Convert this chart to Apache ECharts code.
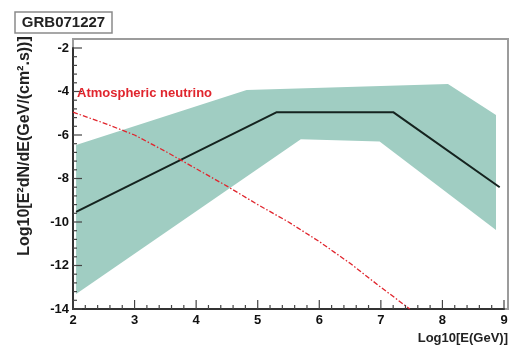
<!DOCTYPE html>
<html>
<head>
<meta charset="utf-8">
<script src="https://cdn.jsdelivr.net/npm/echarts@6/dist/echarts.min.js"></script>
<style>
  html, body { margin: 0; padding: 0; background: #fff; }
  #chart { width: 511px; height: 345px; }
</style>
</head>
<body>
<div id="chart"></div>
<script>
// Expected neutrino flux for GRB071227: log10(E/GeV) vs log10(E^2 dN/dE)
const fluxLine = [[2.05, -9.53], [5.31, -4.95], [7.2, -4.95], [8.93, -8.4]];

// Uncertainty band: upper edge left to right, lower edge left to right
const bandUpper = [[2.05, -6.46], [4.82, -3.93], [8.09, -3.66], [8.87, -5.08]];
const bandLower = [[2.05, -13.31], [5.7, -6.2], [6.98, -6.3], [8.87, -10.37]];

// Atmospheric neutrino background
const atmoX = [2.0, 2.5, 3.0, 3.5, 4.0, 4.5, 5.0, 5.5, 6.0, 6.5, 7.0, 7.47];
const atmoY = [-4.95, -5.45, -6.0, -6.75, -7.55, -8.35, -9.2, -10.0, -10.9, -11.9, -13.0, -14.0];

const xTicks = [2, 3, 4, 5, 6, 7, 8, 9];
const yTicks = [-14, -12, -10, -8, -6, -4, -2];
const MINOR_DIV = 5;

const bandPolygon = bandUpper.concat(bandLower.slice().reverse());
const atmoData = atmoX.map((x, i) => [x, atmoY[i]]);

// minor tick positions between consecutive major ticks
function minorsOf(ticks) {
  const out = [];
  for (let i = 0; i < ticks.length - 1; i++) {
    const step = (ticks[i + 1] - ticks[i]) / MINOR_DIV;
    for (let k = 1; k < MINOR_DIV; k++) out.push(ticks[i] + k * step);
  }
  return out;
}
const xMinor = minorsOf(xTicks);
const yMinor = minorsOf(yTicks);

// anchor item inside the axis range, so the custom series gets rendered
const anchor = [[(xTicks[0] + xTicks[xTicks.length - 1]) / 2, (yTicks[0] + yTicks[yTicks.length - 1]) / 2]];

const FONT = '"Liberation Sans", Arial, Helvetica, sans-serif';
const chart = echarts.init(document.getElementById('chart'), null, { renderer: 'canvas' });

const axisCommon = {
  type: 'value',
  axisLine: { show: true, onZero: false, lineStyle: { color: '#333', width: 2 } },
  axisTick: { show: false },
  minorTick: { show: false },
  splitLine: { show: false },
  axisLabel: { color: '#111', fontFamily: FONT, fontWeight: 'bold', fontSize: 13 }
};

const MAJOR_LEN = 9, MINOR_LEN = 4;

chart.setOption({
  animation: false,
  backgroundColor: '#fff',
  grid: { left: 73, right: 7, top: 48, bottom: 36, show: false },
  xAxis: Object.assign({}, axisCommon, {
    min: 2, max: 9, interval: 1,
    axisLabel: Object.assign({}, axisCommon.axisLabel, { margin: 5 })
  }),
  yAxis: Object.assign({}, axisCommon, {
    min: -14, max: -2, interval: 2,
    axisLabel: Object.assign({}, axisCommon.axisLabel, { margin: 4 })
  }),
  graphic: [
    // plot frame
    { type: 'rect', z: 0, shape: { x: 73, y: 39, width: 435, height: 270 },
      style: { fill: 'none', stroke: '#9c9c9c', lineWidth: 2 }, silent: true },
    // title box
    { type: 'rect', shape: { x: 15, y: 12, width: 97, height: 21 },
      style: { fill: '#fff', stroke: '#8a8a8a', lineWidth: 1.5 } },
    { type: 'text', x: 63.5, y: 23,
      style: { text: 'GRB071227', fill: '#222', font: 'bold 15px ' + FONT,
               align: 'center', verticalAlign: 'middle' } },
    // axis titles
    { type: 'text', x: 25, y: 146, rotation: Math.PI / 2,
      style: { text: 'Log10[E\u00b2dN/dE(GeV/(cm\u00b2.s))]', fill: '#222', font: 'bold 16px ' + FONT,
               align: 'center', verticalAlign: 'middle' } },
    { type: 'text', x: 508, y: 338,
      style: { text: 'Log10[E(GeV)]', fill: '#222', font: 'bold 13px ' + FONT,
               align: 'right', verticalAlign: 'middle' } },
    // background label
    { type: 'text', x: 77, y: 93, z: 100,
      style: { text: 'Atmospheric neutrino', fill: '#e0252d', font: 'bold 13px ' + FONT,
               align: 'left', verticalAlign: 'middle' } }
  ],
  series: [
    {
      type: 'custom',
      z: 1,
      clip: false,
      data: anchor,
      renderItem: function (params, api) {
        return {
          type: 'polygon',
          shape: { points: bandPolygon.map(p => api.coord(p)) },
          style: { fill: '#a0cdc2' }
        };
      }
    },
    {
      type: 'line',
      z: 3,
      data: fluxLine,
      showSymbol: false,
      lineStyle: { color: '#15231f', width: 2 }
    },
    {
      type: 'line',
      z: 4,
      data: atmoData,
      showSymbol: false,
      clip: true,
      lineStyle: { color: '#e0252d', width: 1.3, type: [5, 2, 1.5, 2] }
    },
    {
      // inward-pointing axis ticks along the bottom and left edges
      type: 'custom',
      z: 6,
      clip: false,
      data: anchor,
      renderItem: function (params, api) {
        const children = [];
        const yBase = yTicks[0], xBase = xTicks[0];
        const addX = (v, len) => {
          const p = api.coord([v, yBase]);
          children.push({ type: 'line', shape: { x1: p[0], y1: p[1], x2: p[0], y2: p[1] - len },
                          style: { stroke: '#444', lineWidth: 1.2 } });
        };
        const addY = (v, len) => {
          const p = api.coord([xBase, v]);
          children.push({ type: 'line', shape: { x1: p[0], y1: p[1], x2: p[0] + len, y2: p[1] },
                          style: { stroke: '#444', lineWidth: 1.2 } });
        };
        xTicks.forEach(v => addX(v, MAJOR_LEN));
        xMinor.forEach(v => addX(v, MINOR_LEN));
        yTicks.forEach(v => addY(v, MAJOR_LEN));
        yMinor.forEach(v => addY(v, MINOR_LEN));
        return { type: 'group', children: children };
      }
    }
  ]
});
</script>
</body>
</html>
